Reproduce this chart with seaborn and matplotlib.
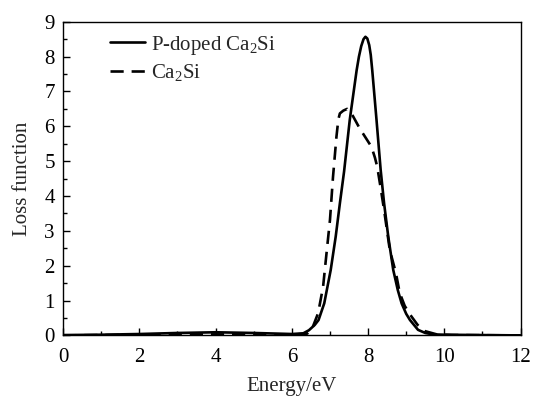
import matplotlib
matplotlib.use("Agg")
import matplotlib.pyplot as plt
import seaborn as sns
import pandas as pd
from matplotlib.ticker import MultipleLocator

# ---- data ----
energy_doped = [0, 1, 2, 3, 4, 5, 6, 6.3, 6.45, 6.6, 6.7, 6.85, 7.02, 7.15, 7.26, 7.37,
                7.52, 7.70, 7.76, 7.82, 7.88, 7.93, 7.98, 8.03, 8.07, 8.11, 8.22, 8.33,
                8.42, 8.53, 8.66, 8.78, 8.88, 9.0, 9.10, 9.31, 9.5, 9.7, 10.0, 11, 12]
loss_doped = [0.01, 0.02, 0.04, 0.07, 0.09, 0.07, 0.04, 0.06, 0.15, 0.3, 0.44, 0.92, 1.88,
              2.83, 3.79, 4.70, 6.19, 7.61, 8.0, 8.3, 8.5, 8.57, 8.52, 8.33, 8.05, 7.6,
              6.2, 4.75, 3.79, 2.83, 1.88, 1.3, 0.92, 0.62, 0.44, 0.16, 0.07, 0.03, 0.02,
              0.01, 0.0]

energy_pure = [0, 2, 4, 6, 6.4, 6.52, 6.69, 6.82, 6.91, 7.0, 7.08, 7.17, 7.22, 7.26, 7.35,
               7.45, 7.6, 7.78, 7.95, 8.09, 8.18, 8.24, 8.32, 8.42, 8.57, 8.73, 8.83, 8.96,
               9.1, 9.3, 9.5, 9.8, 10.2, 12]
loss_pure = [0.0, 0.02, 0.03, 0.02, 0.05, 0.16, 0.64, 1.4, 2.36, 3.31, 4.55, 5.7, 6.2, 6.37,
             6.45, 6.5, 6.3, 5.94, 5.65, 5.41, 5.1, 4.84, 4.3, 3.6, 2.45, 1.79, 1.22, 0.85,
             0.6, 0.3, 0.12, 0.03, 0.01, 0.0]

label_doped = "P-doped Ca$_2$Si"
label_pure = "Ca$_2$Si"
x_ticks = [0, 2, 4, 6, 8, 10, 12]
y_ticks = [0, 1, 2, 3, 4, 5, 6, 7, 8, 9]

df_doped = pd.DataFrame({"Energy": energy_doped, "Loss": loss_doped})
df_pure = pd.DataFrame({"Energy": energy_pure, "Loss": loss_pure})

sns.set_style("ticks")
plt.rcParams["font.family"] = ["Liberation Serif", "DejaVu Serif"]
plt.rcParams["mathtext.default"] = "regular"
plt.rcParams["mathtext.fontset"] = "custom"
plt.rcParams["mathtext.rm"] = "Liberation Serif"

fig = plt.figure(figsize=(5.35, 3.96), dpi=100)
ax = fig.add_axes([0.118, 0.153, 0.855, 0.792])

sns.lineplot(data=df_doped, x="Energy", y="Loss", ax=ax, color="black", lw=1.9,
             label=label_doped, sort=False, estimator=None)
sns.lineplot(data=df_pure, x="Energy", y="Loss", ax=ax, color="black", lw=1.9,
             linestyle=(0, (5.0, 3.0)), label=label_pure, sort=False, estimator=None)

ax.set_xlim(0, 12)
ax.set_ylim(0, 9)
ax.set_xticks(x_ticks)
ax.set_yticks(y_ticks)
ax.xaxis.set_minor_locator(MultipleLocator(1))
ax.yaxis.set_minor_locator(MultipleLocator(0.5))
ax.tick_params(which="both", direction="in", top=False, right=False, colors="black",
               labelsize=15)
ax.tick_params(axis="x", which="both", pad=9)
ax.tick_params(axis="y", which="both", pad=6)
ax.tick_params(which="major", length=5, width=1)
ax.tick_params(which="minor", length=3, width=1)
for s in ax.spines.values():
    s.set_visible(True)
    s.set_color("black")
    s.set_linewidth(1.0)

ax.set_xlabel("Energy/eV", fontsize=15, labelpad=7)
ax.set_ylabel("Loss function", fontsize=15, labelpad=9)

ax.legend(loc="upper left", bbox_to_anchor=(0.102, 0.962), frameon=False, fontsize=15,
          handlelength=1.7, handletextpad=0.3, labelspacing=0.25, borderpad=0,
          borderaxespad=0)

fig.savefig("out.png", dpi=100)
